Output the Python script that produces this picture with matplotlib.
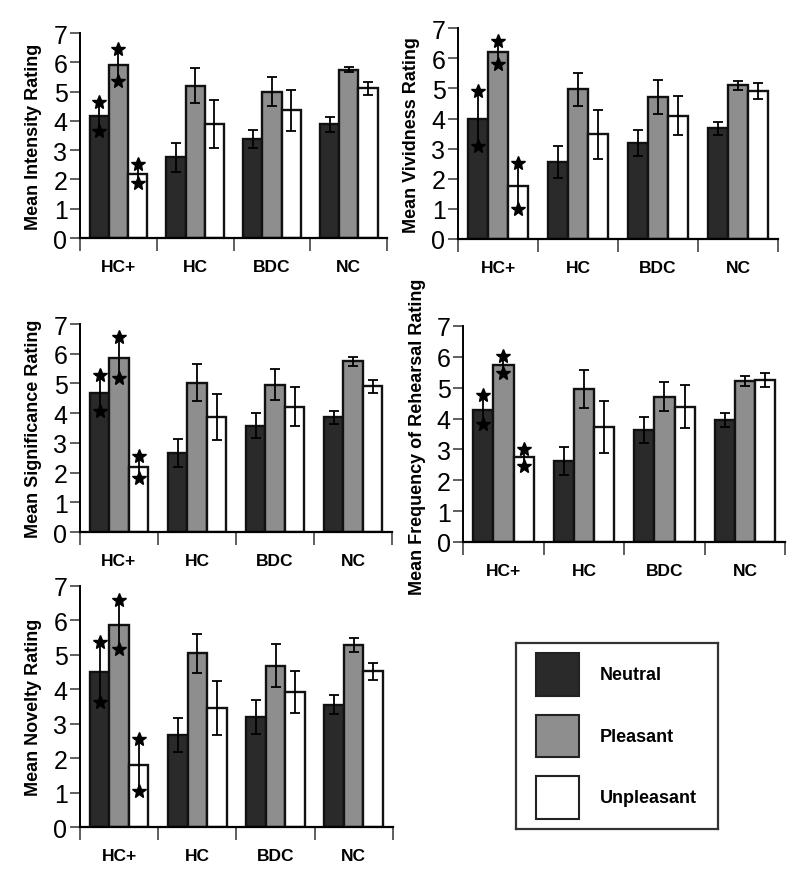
import matplotlib
matplotlib.use("Agg")
import matplotlib.pyplot as plt
from matplotlib.patches import Rectangle
import numpy as np

plt.rcParams['font.family'] = ['Liberation Sans', 'DejaVu Sans']

# groups and conditions
groups = ['HC+', 'HC', 'BDC', 'NC']
conditions = ['Neutral', 'Pleasant', 'Unpleasant']
colors = ['#2a2a2a', '#8e8e8e', '#ffffff']

# means [neutral, pleasant, unpleasant] per group, and standard errors
intensity = [[4.15, 2.75, 3.38, 3.88], [5.9, 5.2, 5.0, 5.75], [2.2, 3.9, 4.37, 5.12]]
intensity_err = [[0.48, 0.5, 0.3, 0.25], [0.55, 0.6, 0.5, 0.08], [0.32, 0.82, 0.7, 0.22]]

vividness = [[4.0, 2.56, 3.2, 3.68], [6.2, 4.98, 4.72, 5.1], [1.77, 3.48, 4.1, 4.92]]
vividness_err = [[0.9, 0.52, 0.43, 0.22], [0.38, 0.55, 0.56, 0.15], [0.77, 0.82, 0.64, 0.27]]

significance = [[4.68, 2.66, 3.58, 3.87], [5.87, 5.02, 4.96, 5.74], [2.18, 3.87, 4.22, 4.9]]
significance_err = [[0.6, 0.47, 0.42, 0.22], [0.7, 0.62, 0.52, 0.15], [0.37, 0.77, 0.65, 0.22]]

rehearsal = [[4.29, 2.62, 3.63, 3.96], [5.75, 4.96, 4.71, 5.22], [2.74, 3.72, 4.38, 5.25]]
rehearsal_err = [[0.48, 0.46, 0.42, 0.22], [0.27, 0.62, 0.46, 0.17], [0.27, 0.85, 0.7, 0.22]]

novelty = [[4.5, 2.68, 3.2, 3.55], [5.88, 5.04, 4.69, 5.28], [1.8, 3.45, 3.92, 4.52]]
novelty_err = [[0.88, 0.5, 0.5, 0.27], [0.72, 0.57, 0.62, 0.2], [0.76, 0.78, 0.6, 0.25]]


def bar_panel(fig, rect, means, errs, ylab, label_y=0.5):
    ax = fig.add_axes(rect)
    x = np.arange(len(groups))
    w = 0.25
    for i in range(3):
        xs = x + (i - 1) * w
        ax.bar(xs, means[i], w, color=colors[i], edgecolor='#111111', linewidth=1.7, zorder=2)
        ax.errorbar(xs, means[i], yerr=errs[i], fmt='none', ecolor='black',
                    elinewidth=1.3, capsize=3.5, capthick=1.3, zorder=3)
        # significance stars on the HC+ group, at both ends of the error bar
        ax.plot([xs[0], xs[0]], [means[i][0] + errs[i][0], means[i][0] - errs[i][0]],
                ls='none', marker='*', ms=10, color='black', zorder=4)
    ax.set_xlim(-0.5, 3.5)
    ax.set_ylim(0, 7)
    ax.set_yticks(range(8))
    ax.set_xticks([-0.5, 0.5, 1.5, 2.5, 3.5])
    ax.set_xticklabels([])
    ax.set_xticks(x, minor=True)
    ax.set_xticklabels(groups, minor=True, fontsize=12.5, fontweight='bold')
    ax.tick_params(axis='x', which='major', length=9, width=1.2, color='#444444')
    ax.tick_params(axis='x', which='minor', length=0, pad=15)
    ax.tick_params(axis='y', length=7, width=1.2, color='#444444', labelsize=18, pad=2)
    for s in ['top', 'right']:
        ax.spines[s].set_visible(False)
    ax.spines['left'].set_linewidth(1.4)
    ax.spines['bottom'].set_linewidth(1.6)
    ax.set_ylabel(ylab, fontsize=13, fontweight='bold')
    ax.yaxis.set_label_coords(-44.0 / (rect[2] * 800) + 0.02, label_y)
    return ax


def main():
    fig = plt.figure(figsize=(8, 8.79), dpi=100)

    bar_panel(fig, [0.100, 0.7281, 0.384, 0.2332], intensity, intensity_err, 'Mean Intensity Rating')
    bar_panel(fig, [0.5725, 0.727, 0.40, 0.2397], vividness, vividness_err, 'Mean Vividness Rating')
    bar_panel(fig, [0.100, 0.3936, 0.39, 0.2366], significance, significance_err, 'Mean Significance Rating')
    bar_panel(fig, [0.579, 0.3823, 0.4025, 0.2457], rehearsal, rehearsal_err,
              'Mean Frequency of Rehearsal Rating', label_y=0.49)
    bar_panel(fig, [0.100, 0.058, 0.391, 0.2742], novelty, novelty_err, 'Mean Novelty Rating')

    # legend box
    lax = fig.add_axes([0.645, 0.0557, 0.2525, 0.2116])
    lax.set_xlim(0, 1)
    lax.set_ylim(0, 1)
    lax.set_xticks([])
    lax.set_yticks([])
    for s in lax.spines.values():
        s.set_linewidth(1.6)
        s.set_color('#333333')
    for i, name in enumerate(conditions):
        yc = 0.83 - i * 0.33
        lax.add_patch(Rectangle((0.1, yc - 0.115), 0.212, 0.23, facecolor=colors[i],
                                edgecolor='#222222', linewidth=1.5))
        lax.text(0.416, yc, name, fontsize=13, fontweight='bold', va='center', ha='left')

    fig.savefig('out.png', dpi=100)


if __name__ == "__main__":
    main()
